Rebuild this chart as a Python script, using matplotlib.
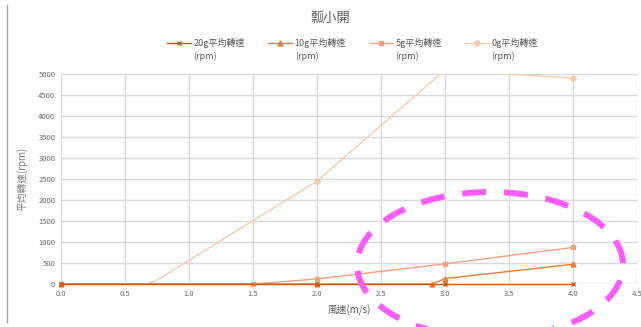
import matplotlib.pyplot as plt
from matplotlib.patches import Ellipse
from matplotlib.lines import Line2D

plt.rcParams['font.family'] = ['Noto Sans CJK TC', 'DejaVu Sans']

# data
x20 = [0.0, 2.0, 3.0, 4.0]
y20 = [0, 0, 0, 0]
x10 = [0.0, 2.0, 2.9, 3.0, 4.0]
y10 = [0, 0, 0, 130, 470]
x5 = [0.0, 1.5, 2.0, 3.0, 4.0]
y5 = [0, 0, 120, 480, 870]
x0 = [0.0, 0.7, 2.0, 3.0, 4.0]
y0 = [0, 0, 2450, 5100, 4900]

labels = ['20g平均轉速', '10g平均轉速', '5g平均轉速', '0g平均轉速']
colors = ['#C55A11', '#ED7D31', '#F4A27A', '#F8CBAD']
markers = ['x', '^', 's', 'o']
xticks = [0.0, 0.5, 1.0, 1.5, 2.0, 2.5, 3.0, 3.5, 4.0, 4.5]
yticks = [0, 500, 1000, 1500, 2000, 2500, 3000, 3500, 4000, 4500, 5000]

grey = '#595959'
fig = plt.figure(figsize=(6.41, 3.27), dpi=100)
ax = fig.add_axes([0.095, 0.1315, 0.899, 0.6422])

series = [(x20, y20), (x10, y10), (x5, y5), (x0, y0)]
# draw lighter series first so darker ones sit on top
for i in [3, 2, 1, 0]:
    xs, ys = series[i]
    ax.plot(xs, ys, color=colors[i], marker=markers[i], markersize=3.5,
            linewidth=1.0, label=labels[i], zorder=3 + (3 - i),
            clip_on=(i == 3))  # only the 0g line runs past the top

ax.set_xlim(0, 4.5)
ax.set_ylim(0, 5000)
ax.set_xticks(xticks)
ax.set_xticklabels(['%.1f' % v for v in xticks])
ax.set_yticks(yticks)
ax.set_yticklabels([str(v) for v in yticks])
ax.tick_params(length=0, labelsize=5.5, labelcolor='#6b6b6b', pad=4)
ax.grid(True, color='#D9D9D9', linewidth=1)
for s in ax.spines.values():
    s.set_visible(False)
ax.set_axisbelow(True)

ax.set_xlabel('風速(m/s)', fontsize=7, color=grey, labelpad=5)
ax.set_ylabel('平均轉速(rpm)', fontsize=7, color='#7f7f7f', labelpad=8)
fig.text(0.515, 0.942, '瓢小開', fontsize=9.5, color=grey, ha='center', va='center')

handles = [Line2D([], [], color=colors[i], marker=markers[i], markersize=3.5,
                  linewidth=1.0) for i in range(4)]
leg = fig.legend(handles, labels, ncol=4, loc='center', bbox_to_anchor=(0.55, 0.868),
                 frameon=False, fontsize=6.5, handlelength=2.6, columnspacing=2.6,
                 handletextpad=0.3, labelcolor=grey)

fig.canvas.draw()
inv = fig.transFigure.inverted()
for t in leg.get_texts():
    bb = t.get_window_extent()
    x_f, y_f = inv.transform((bb.x0, bb.y0))
    fig.text(x_f, y_f - 0.01, '(rpm)', fontsize=6.5, color=grey, ha='left', va='top')

# left border of the chart area
fig.add_artist(Line2D([7 / 641, 7 / 641], [0.015, 0.985], color='#A6A6A6',
                      linewidth=1, transform=fig.transFigure))

ell = Ellipse((490 / 641, 62 / 327), 266 / 641, 146 / 327, transform=fig.transFigure,
              fill=False, edgecolor='#FF5CFF', linewidth=4.3, linestyle=(0, (4, 3)),
              clip_on=False, zorder=10)
fig.add_artist(ell)

plt.savefig('out.png', dpi=100)
